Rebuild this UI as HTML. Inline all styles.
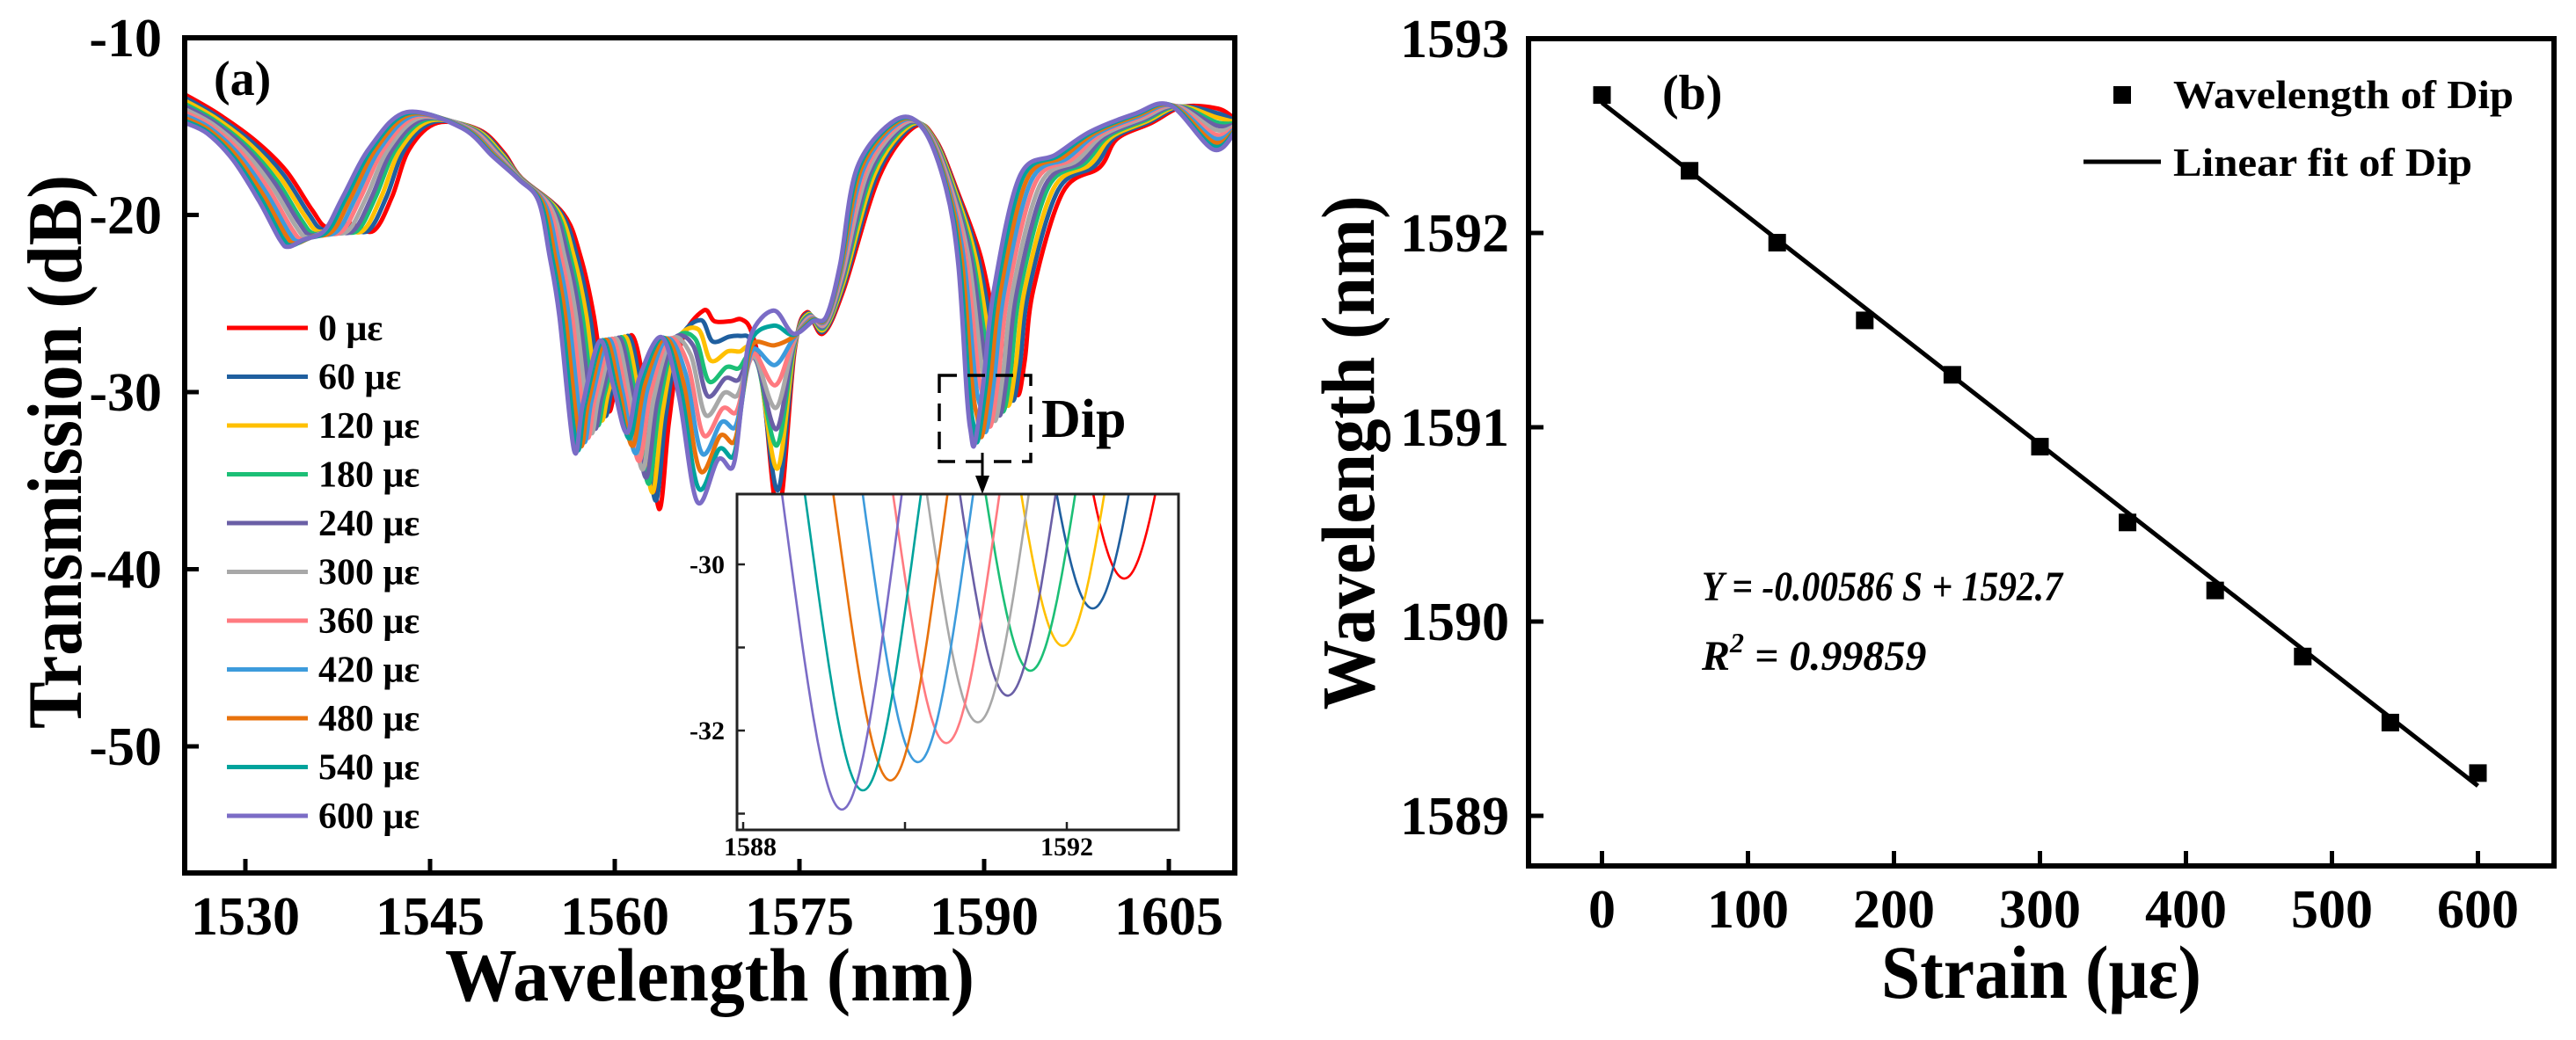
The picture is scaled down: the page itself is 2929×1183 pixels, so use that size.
<!DOCTYPE html>
<html><head><meta charset="utf-8"><style>
html,body{margin:0;padding:0;background:#fff;}
svg{display:block;font-family:"Liberation Serif",serif;font-weight:bold;}
</style></head><body>
<svg id="fig" xmlns="http://www.w3.org/2000/svg" width="2929" height="1183" viewBox="0 0 2929 1183">
<defs>
<clipPath id="clipA"><rect x="213" y="46" width="1188" height="944"/></clipPath>
<clipPath id="clipI"><rect x="839" y="563" width="500" height="380"/></clipPath>
</defs>
<g id="panelA"></g>
<g id="panelB"></g>
</svg>
<script>
// ---------- data ----------
const strains = [0,60,120,180,240,300,360,420,480,540,600];
const dipWl = [1592.71,1592.32,1591.95,1591.55,1591.27,1590.90,1590.51,1590.16,1589.82,1589.48,1589.22];
const dipDepth = [-30.17,-30.53,-30.98,-31.28,-31.58,-31.90,-32.15,-32.38,-32.60,-32.72,-32.95];
const fitSlope = -0.00586;
const fitIntercept = 1592.67;
const colors = ['#ff0000','#1f5f9f','#ffc000','#1cbf76','#6a5fa6','#a8a8a8','#ff7a80','#3d9bdc','#e8720c','#00a39c','#7b6cc6'];
// spectrum at 0 με (red) and 600 με (purple)
const spec0Wl = [1525.1,1527.8,1530.8,1533.3,1535.4,1536.6,1538.5,1540.4,1541.9,1543.3,1545.6,1549.0,1551.0,1552.4,1555.8,1557.2,1558.3,1559.4,1560.1,1561.4,1562.6,1563.6,1564.4,1565.4,1567.2,1568.1,1569.4,1570.3,1571.1,1572.0,1573.3,1574.6,1575.6,1576.9,1578.6,1581.5,1584.4,1586.1,1587.9,1589.7,1591.1,1592.1,1592.73,1593.3,1594.0,1596.4,1599.4,1600.8,1603.6,1606.1,1609.0,1610.4];
const spec0T = [-13.2,-14.3,-15.8,-17.5,-19.7,-20.7,-20.5,-20.9,-19.0,-16.3,-14.8,-15.2,-16.5,-17.9,-19.9,-22.3,-25.7,-30.9,-29.7,-26.8,-30.7,-36.6,-31.7,-27.2,-25.4,-26.0,-26.0,-25.9,-26.6,-29.4,-36.8,-27.7,-25.5,-26.7,-24.2,-17.8,-15.0,-15.8,-18.8,-22.3,-26.7,-27.7,-30.17,-28.2,-24.2,-18.7,-17.3,-15.7,-14.8,-13.9,-14.0,-14.6];
const spec600Wl = [1525.1,1526.9,1529.0,1531.1,1532.8,1533.5,1534.7,1536.4,1537.9,1540.1,1543.1,1547.6,1550.1,1552.2,1553.8,1554.7,1555.5,1556.7,1557.4,1558.8,1559.9,1561.0,1562.0,1563.8,1565.2,1566.7,1568.4,1569.6,1570.3,1571.0,1572.9,1574.5,1576.1,1577.2,1578.3,1579.7,1582.9,1585.1,1586.9,1587.9,1588.6,1588.9,1589.23,1589.9,1590.8,1592.9,1595.8,1598.6,1602.2,1605.1,1608.6,1610.4];
const spec600T = [-14.8,-15.4,-16.9,-19.2,-21.4,-21.8,-21.4,-20.9,-19.0,-16.2,-14.2,-15.1,-16.7,-18.0,-19.2,-22.3,-25.7,-33.3,-30.7,-27.1,-29.7,-32.3,-29.2,-26.9,-30.2,-36.2,-33.8,-34.2,-30.7,-26.9,-25.4,-26.7,-26.0,-25.7,-22.8,-17.3,-14.6,-15.2,-18.5,-22.8,-30.2,-32.2,-32.95,-29.7,-24.2,-17.8,-16.6,-15.3,-14.3,-13.8,-16.3,-15.3];
const xTicksA = [1530,1545,1560,1575,1590,1605];
const yTicksA = [-10,-20,-30,-40,-50];
const xTicksI = [1588,1590,1592];
const xLabelsI = [1588,1592];
const yTicksI = [-30,-31,-32,-33];
const yLabelsI = [-30,-32];
const xTicksB = [0,100,200,300,400,500,600];
const yTicksB = [1593,1592,1591,1590,1589];

// ---------- helpers ----------
const NS='http://www.w3.org/2000/svg';
function mk(parent,tag,attrs,text){const e=document.createElementNS(NS,tag);for(const k in attrs)e.setAttribute(k,attrs[k]);if(text!==undefined)e.textContent=text;parent.appendChild(e);return e;}
function smooth(pts){let d='M'+pts[0][0].toFixed(1)+','+pts[0][1].toFixed(1);for(let i=0;i<pts.length-1;i++){const p0=pts[Math.max(0,i-1)],p1=pts[i],p2=pts[i+1],p3=pts[Math.min(pts.length-1,i+2)];const c1x=p1[0]+(p2[0]-p0[0])/6,c1y=p1[1]+(p2[1]-p0[1])/6,c2x=p2[0]-(p3[0]-p1[0])/6,c2y=p2[1]-(p3[1]-p1[1])/6;d+=' C'+c1x.toFixed(1)+','+c1y.toFixed(1)+' '+c2x.toFixed(1)+','+c2y.toFixed(1)+' '+p2[0].toFixed(1)+','+p2[1].toFixed(1);}return d;}

// ---------- panel A ----------
const A=document.getElementById('panelA');
const xA=l=>279+(l-1530)*14.0, yA=t=>43+(-10-t)*20.15;
const xI=l=>845+(l-1588)*92, yI=t=>642+(-30-t)*94.5;
const gS=mk(A,'g',{'clip-path':'url(#clipA)'});


const span=dipWl[0]-dipWl[dipWl.length-1];
strains.forEach((s,i)=>{
  const f=(dipWl[0]-dipWl[i])/span;
  const pts=spec0Wl.map((w,j)=>[xA(w+(spec600Wl[j]-w)*f), yA(spec0T[j]+(spec600T[j]-spec0T[j])*f)]);
  const p=mk(gS,'path',{d:smooth(pts),fill:'none',stroke:colors[i],'stroke-width':5,'stroke-linejoin':'round'});
  
  
});
// axes box
const boxA=mk(A,'rect',{x:210,y:43,width:1194,height:950,fill:'none',stroke:'#000','stroke-width':6});


xTicksA.forEach(v=>{
  const t=mk(A,'line',{x1:xA(v),x2:xA(v),y1:993,y2:977,stroke:'#000','stroke-width':5});
  
  
  const l=mk(A,'text',{x:xA(v),y:1063,'font-size':62,'text-anchor':'middle'},String(v));
  
  
});
yTicksA.forEach(v=>{
  const t=mk(A,'line',{x1:210,x2:226,y1:yA(v),y2:yA(v),stroke:'#000','stroke-width':5});
  
  
  const l=mk(A,'text',{x:184,y:yA(v)+21,'font-size':62,'text-anchor':'end'},String(v));
  
  
});
let e;
e=mk(A,'text',{x:807,y:1138,'font-size':86,'text-anchor':'middle',textLength:602,lengthAdjust:'spacingAndGlyphs'},'Wavelength (nm)');


e=mk(A,'text',{transform:'translate(92,514) rotate(-90)','font-size':88,'text-anchor':'middle',textLength:630,lengthAdjust:'spacingAndGlyphs'},'Transmission (dB)');


e=mk(A,'text',{x:243,y:108,'font-size':56},'(a)');


// legend
const gL=mk(A,'g',{});


strains.forEach((s,i)=>{
  const y=373+i*55.5;
  const ln=mk(gL,'line',{x1:258,x2:350,y1:y,y2:y,stroke:colors[i],'stroke-width':5});
  
  
  const tx=mk(gL,'text',{x:362,y:y+14,'font-size':42},s+' με');
  
  
});
// dashed box, arrow, Dip label
e=mk(A,'rect',{x:1068,y:427,width:104,height:98,fill:'none',stroke:'#000','stroke-width':3.5,'stroke-dasharray':'20,12'});


e=mk(A,'line',{x1:1117,x2:1117,y1:515,y2:545,stroke:'#000','stroke-width':3});


e=mk(A,'path',{d:'M1109,541 L1125,541 L1117,562 Z',fill:'#000'});


e=mk(A,'text',{x:1184,y:497,'font-size':62},'Dip');


// inset
const gI=mk(A,'g',{});


mk(gI,'rect',{x:838,y:562,width:502,height:382,fill:'#fff'});
const gIC=mk(gI,'g',{'clip-path':'url(#clipI)'});
strains.forEach((s,i)=>{
  const pts=[];const base=-20,D=base-dipDepth[i],w=1.15;
  for(let l=1587.8;l<=1593.5;l+=0.04){const u=(l-dipWl[i])/w;pts.push([xI(l),yI(base-D/(1+u*u))]);}
  const p=mk(gIC,'path',{d:smooth(pts),fill:'none',stroke:colors[i],'stroke-width':2.6});
  
  
});
e=mk(gI,'rect',{x:838,y:562,width:502,height:382,fill:'none',stroke:'#222','stroke-width':3});


xTicksI.forEach(v=>{const t=mk(gI,'line',{x1:xI(v),x2:xI(v),y1:944,y2:935,stroke:'#222','stroke-width':2.5});
  
  });
xLabelsI.forEach(v=>{const t=mk(gI,'text',{x:xI(v)+(v===1588?8:0),y:973,'font-size':30,'text-anchor':'middle'},String(v));
  
  });
yTicksI.forEach(v=>{const t=mk(gI,'line',{x1:838,x2:847,y1:yI(v),y2:yI(v),stroke:'#222','stroke-width':2.5});
  
  });
yLabelsI.forEach(v=>{const t=mk(gI,'text',{x:824,y:yI(v)+10,'font-size':30,'text-anchor':'end'},String(v));
  
  });

// ---------- panel B ----------
const B=document.getElementById('panelB');
const xB=s=>1821.5+s*1.66, yB=w=>44+(1593-w)*221;
e=mk(B,'rect',{x:1738,y:44,width:1166,height:941,fill:'none',stroke:'#000','stroke-width':6});


xTicksB.forEach(v=>{
  const t=mk(B,'line',{x1:xB(v),x2:xB(v),y1:985,y2:968,stroke:'#000','stroke-width':5});
  
  
  const l=mk(B,'text',{x:xB(v),y:1055,'font-size':62,'text-anchor':'middle'},String(v));
  
  
});
yTicksB.forEach(v=>{
  const t=mk(B,'line',{x1:1738,x2:1755,y1:yB(v),y2:yB(v),stroke:'#000','stroke-width':5});
  
  
  const l=mk(B,'text',{x:1716,y:yB(v)+21,'font-size':62,'text-anchor':'end'},String(v));
  
  
});
const s0=strains[0],s1=strains[strains.length-1];
e=mk(B,'line',{x1:xB(s0),y1:yB(fitIntercept+fitSlope*s0),x2:xB(s1),y2:yB(fitIntercept+fitSlope*s1),stroke:'#000','stroke-width':5});


strains.forEach((s,i)=>{
  const r=mk(B,'rect',{x:xB(s)-10,y:yB(dipWl[i])-10,width:20,height:20,fill:'#000'});
  
  
});
e=mk(B,'text',{x:1890,y:124,'font-size':56},'(b)');


e=mk(B,'rect',{x:2403,y:98,width:20,height:20,fill:'#000'});


e=mk(B,'text',{x:2471,y:123,'font-size':46,textLength:387,lengthAdjust:'spacingAndGlyphs'},'Wavelength of Dip');


e=mk(B,'line',{x1:2369,x2:2457,y1:184,y2:184,stroke:'#000','stroke-width':5});


e=mk(B,'text',{x:2471,y:200,'font-size':46,textLength:340,lengthAdjust:'spacingAndGlyphs'},'Linear fit of Dip');


e=mk(B,'text',{x:1935,y:683,'font-size':48,'font-style':'italic',textLength:410,lengthAdjust:'spacingAndGlyphs'},'Y = -0.00586 S + 1592.7');


const r2=mk(B,'text',{x:1935,y:762,'font-size':48,'font-style':'italic'});


r2.innerHTML='R<tspan dy="-20" font-size="32">2</tspan><tspan dy="20"> = 0.99859</tspan>';
e=mk(B,'text',{x:2321,y:1135,'font-size':86,'text-anchor':'middle',textLength:364,lengthAdjust:'spacingAndGlyphs'},'Strain (με)');


e=mk(B,'text',{transform:'translate(1562,515) rotate(-90)','font-size':86,'text-anchor':'middle',textLength:585,lengthAdjust:'spacingAndGlyphs'},'Wavelength (nm)');


</script>
</body></html>
